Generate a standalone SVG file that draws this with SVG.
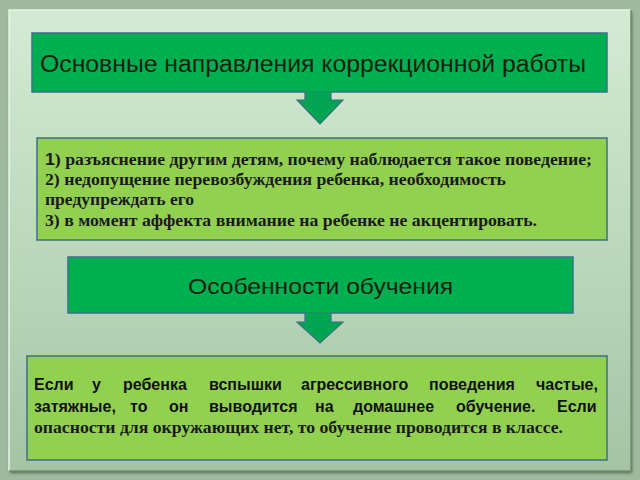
<svg xmlns="http://www.w3.org/2000/svg" width="640" height="480" viewBox="0 0 640 480">
<defs>
<linearGradient id="panel" x1="0" y1="0" x2="0" y2="1">
<stop offset="0" stop-color="#d3ebd3"/>
<stop offset="0.5" stop-color="#bcd9bc"/>
<stop offset="1" stop-color="#a4c4a4"/>
</linearGradient>
<filter id="sh" x="-5%" y="-5%" width="110%" height="110%">
<feDropShadow dx="1" dy="2" stdDeviation="1.5" flood-color="#2e4a2e" flood-opacity="0.7"/>
</filter>
<style>
.dark{fill:#00b050;stroke:#3e6e8c;stroke-width:1.5}
.light{fill:#92d050;stroke:#3e6e8c;stroke-width:1.5}
.arrow{fill:#00a552;stroke:#3e6e8c;stroke-width:1.2;stroke-linejoin:miter}
.sans{font-family:"Liberation Sans",Arial,sans-serif;fill:#0f1f0f}
.serif{font-family:"Liberation Serif","Times New Roman",serif;font-weight:bold;font-size:17px;fill:#1a1a1a}
.sb{font-family:"Liberation Sans",Arial,sans-serif;font-weight:bold;font-size:16px;fill:#111}
</style>
</defs>
<rect x="0" y="0" width="640" height="480" fill="#9dba9d"/>
<g id="panel-bg">
<rect x="9" y="10" width="622" height="461" fill="url(#panel)" filter="url(#sh)"/>
<path d="M9 471 V10 H631" fill="none" stroke="#e6f5e6" stroke-width="1.5"/>
<path d="M631 10 V471 H9" fill="none" stroke="#6f8f6f" stroke-width="1.5"/>
</g>
<g id="node-directions">
<rect class="dark" x="32" y="33" width="575" height="59"/>
<text class="sans" x="40" y="72" font-size="23" textLength="546" lengthAdjust="spacingAndGlyphs">Основные направления коррекционной работы</text>
</g>
<g id="node-list">
<rect class="light" x="37" y="138" width="570" height="102"/>
<text class="serif" x="45" y="165" textLength="547" lengthAdjust="spacingAndGlyphs"><tspan font-family="Liberation Sans, Arial, sans-serif">1</tspan>) разъяснение другим детям, почему наблюдается такое поведение;</text>
<text class="serif" x="45" y="185" textLength="461" lengthAdjust="spacingAndGlyphs">2) недопущение перевозбуждения ребенка, необходимость</text>
<text class="serif" x="45" y="205" textLength="149" lengthAdjust="spacingAndGlyphs">предупреждать его</text>
<text class="serif" x="45" y="226" textLength="492" lengthAdjust="spacingAndGlyphs">3) в момент аффекта внимание на ребенке не акцентировать.</text>
</g>
<g id="node-features">
<rect class="dark" x="68" y="257" width="505" height="56"/>
<text class="sans" x="320.5" y="294" font-size="22" text-anchor="middle" textLength="265" lengthAdjust="spacingAndGlyphs">Особенности обучения</text>
</g>
<g id="node-homeschool">
<rect class="light" x="27" y="356" width="580" height="104"/>
<text class="sb" y="390"><tspan x="34">Если</tspan><tspan x="92">у</tspan><tspan x="123">ребенка</tspan><tspan x="209">вспышки</tspan><tspan x="301">агрессивного</tspan><tspan x="429">поведения</tspan><tspan x="536">частые,</tspan></text>
<text class="sb" y="412"><tspan x="34">затяжные,</tspan><tspan x="130">то</tspan><tspan x="169">он</tspan><tspan x="209">выводится</tspan><tspan x="315">на</tspan><tspan x="353">домашнее</tspan><tspan x="456">обучение.</tspan><tspan x="557">Если</tspan></text>
<text class="serif" x="34" y="433" font-size="16" textLength="529" lengthAdjust="spacingAndGlyphs">опасности для окружающих нет, то обучение проводится в классе.</text>
</g>
<g id="connectors">
<path class="arrow" d="M305 91.5 V100 H297 L320 124 L343 100 H331 V91.5"/>
<path class="arrow" d="M305 312.5 V322 H297 L320 343 L343 322 H331 V312.5"/>
</g>
</svg>
